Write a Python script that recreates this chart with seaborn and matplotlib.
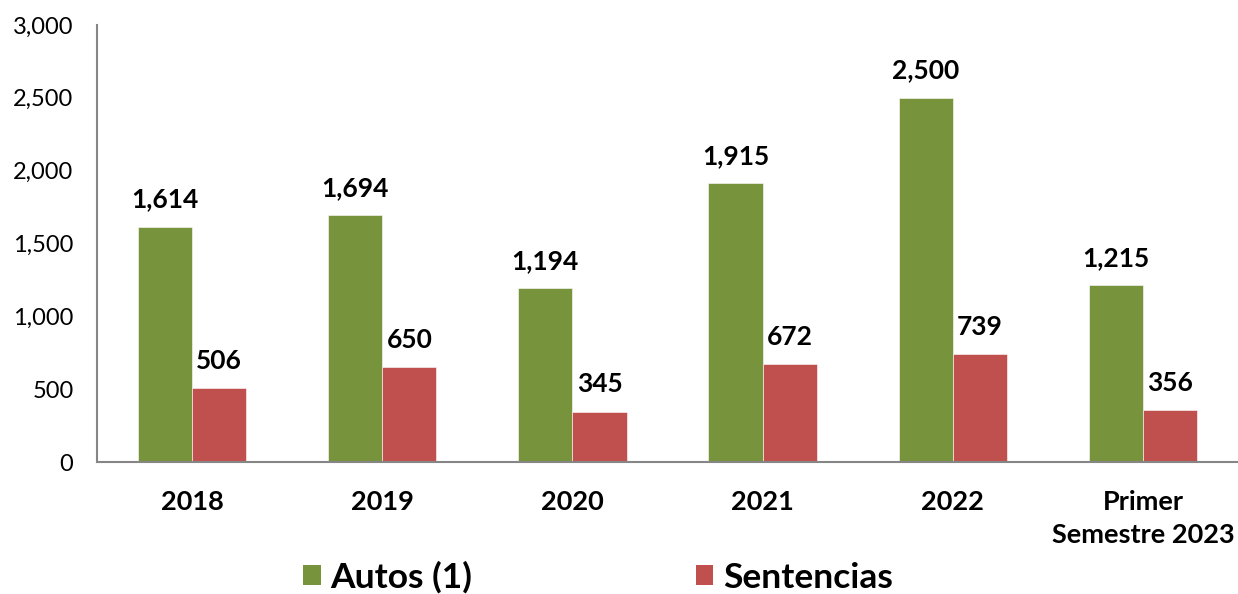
import matplotlib
matplotlib.use("Agg")
import matplotlib.pyplot as plt
import seaborn as sns
import pandas as pd
from matplotlib.patches import Patch

categories = ["2018", "2019", "2020", "2021", "2022", "Primer\nSemestre 2023"]
autos = [1614, 1694, 1194, 1915, 2500, 1215]
sentencias = [506, 650, 345, 672, 739, 356]
series_names = ["Autos (1)", "Sentencias"]
colors = ["#77933C", "#C0504D"]

df = pd.DataFrame({
    "cat": categories * 2,
    "value": autos + sentencias,
    "serie": [series_names[0]] * len(categories) + [series_names[1]] * len(categories),
})

sns.set_theme(style="white")
plt.rcParams["font.family"] = ["Lato", "DejaVu Sans"]

fig = plt.figure(figsize=(12.38, 5.94), dpi=100)
ax = fig.add_axes([0.0784, 0.2222, 0.9216, 0.7357])

sns.barplot(data=df, x="cat", y="value", hue="serie", palette=colors,
            width=0.57, ax=ax, legend=False, saturation=1,
            edgecolor="white", linewidth=0.4)

ax.set_ylim(0, 3000)
ax.set_xlim(-0.5, len(categories) - 0.5)
ax.set_yticks(range(0, 3001, 500))
ax.set_yticklabels([f"{v:,}" for v in range(0, 3001, 500)], fontsize=17, color="black")
ax.tick_params(axis="y", length=0, pad=17)
ax.tick_params(axis="x", length=0, pad=20)
for lbl in ax.get_xticklabels():
    lbl.set_fontsize(19.5)
    lbl.set_fontweight("bold")
    lbl.set_color("black")
    lbl.set_linespacing(1.45)
ax.set_xlabel("")
ax.set_ylabel("")

for side in ["top", "right"]:
    ax.spines[side].set_visible(False)
for side in ["left", "bottom"]:
    ax.spines[side].set_color("#868686")
    ax.spines[side].set_linewidth(1.5)

for cont in ax.containers:
    ax.bar_label(cont, labels=[f"{v:,.0f}" for v in cont.datavalues],
                 padding=11, fontsize=19, fontweight="bold", color="black")

handles = [Patch(facecolor=c, edgecolor="none") for c in colors]
fig.legend(handles, series_names, loc="center", bbox_to_anchor=(0.483, 0.028),
           ncol=2, frameon=False, prop={"size": 25.5, "weight": "bold"},
           labelcolor="black",
           columnspacing=6.3, handlelength=0.5, handleheight=0.5, handletextpad=0.28,
           borderpad=0.0)

fig.savefig("out.png", dpi=100)
